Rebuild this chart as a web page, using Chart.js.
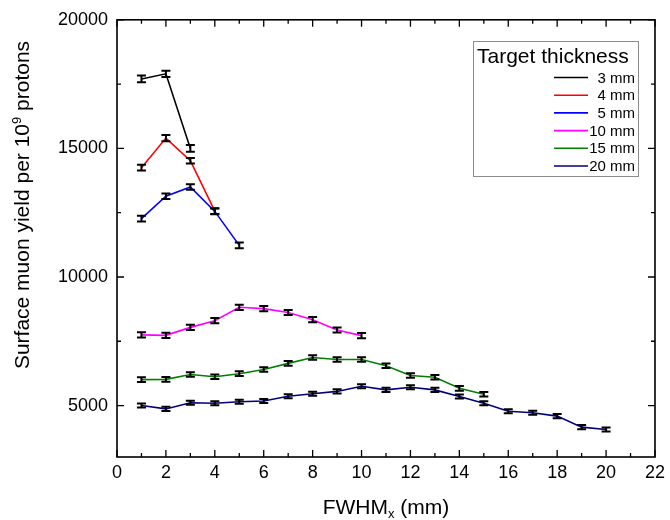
<!DOCTYPE html>
<html>
<head>
<meta charset="utf-8">
<script src="https://cdn.jsdelivr.net/npm/chart.js@4.4.1/dist/chart.umd.min.js"></script>
<style>
  body { margin: 0; background: #fff; }
  #wrap { width: 670px; height: 520px; }
</style>
</head>
<body>
<div id="wrap"><canvas id="yieldChart" width="670" height="520"></canvas></div>
<script>
const FONT = "'Liberation Sans', Arial, sans-serif";

// data
const thickness = ["3 mm", "4 mm", "5 mm", "10 mm", "15 mm", "20 mm"];
const colors = ["#000000", "#ff0000", "#0000ff", "#ff00ff", "#008000", "#000080"];

const fwhm3 = [1, 2, 3];
const yield3 = [17700, 17900, 15000];
const err3 = [130, 120, 130];

const fwhm4 = [1, 2, 3, 4];
const yield4 = [14250, 15400, 14520, 12560];
const err4 = [110, 120, 110, 110];

const fwhm5 = [1, 2, 3, 4, 5];
const yield5 = [12270, 13140, 13500, 12550, 11230];
const err5 = [110, 110, 110, 110, 110];

const fwhm10 = [1, 2, 3, 4, 5, 6, 7, 8, 9, 10];
const yield10 = [7750, 7730, 8040, 8300, 8820, 8770, 8620, 8340, 7940, 7720];
const err10 = [100, 100, 100, 100, 100, 100, 100, 100, 100, 100];

const fwhm15 = [1, 2, 3, 4, 5, 6, 7, 8, 9, 10, 11, 12, 13, 14, 15];
const yield15 = [6010, 6020, 6210, 6120, 6240, 6400, 6640, 6870, 6790, 6790, 6550, 6170, 6100, 5670, 5440];
const err15 = [90, 90, 90, 90, 90, 90, 90, 90, 90, 90, 90, 90, 90, 90, 90];

const fwhm20 = [1, 2, 3, 4, 5, 6, 7, 8, 9, 10, 11, 12, 13, 14, 15, 16, 17, 18, 19, 20];
const yield20 = [5000, 4870, 5110, 5090, 5150, 5180, 5360, 5460, 5550, 5750, 5610, 5710, 5610, 5350, 5090, 4780, 4720, 4590, 4160, 4070];
const err20 = [80, 80, 80, 80, 80, 80, 80, 80, 80, 80, 80, 80, 80, 80, 80, 80, 80, 80, 80, 80];

const xTicks = [0, 2, 4, 6, 8, 10, 12, 14, 16, 18, 20, 22];
const xMinorTicks = [1, 3, 5, 7, 9, 11, 13, 15, 17, 19, 21];
const yTicks = [5000, 10000, 15000, 20000];
const yMinorTicks = [7500, 12500, 17500];

const xList = [fwhm3, fwhm4, fwhm5, fwhm10, fwhm15, fwhm20];
const yList = [yield3, yield4, yield5, yield10, yield15, yield20];
const errList = [err3, err4, err5, err10, err15, err20];

const datasets = thickness.map((label, i) => ({
  label: label,
  data: xList[i].map((x, j) => ({ x: x, y: yList[i][j] })),
  errors: errList[i],
  borderColor: colors[i],
  backgroundColor: colors[i],
  borderWidth: 1.6,
  pointRadius: 0,
  tension: 0,
}));

// error bars with caps
const errorBars = {
  id: "errorBars",
  afterDatasetsDraw(chart) {
    const ctx = chart.ctx;
    const xs = chart.scales.x, ys = chart.scales.y;
    ctx.save();
    ctx.strokeStyle = "#000";
    ctx.lineWidth = 2;
    chart.data.datasets.forEach((ds) => {
      ds.data.forEach((p, j) => {
        const e = ds.errors[j];
        const px = xs.getPixelForValue(p.x);
        const top = ys.getPixelForValue(p.y + e);
        const bot = ys.getPixelForValue(p.y - e);
        ctx.beginPath();
        ctx.moveTo(px, top); ctx.lineTo(px, bot);
        ctx.moveTo(px - 4.5, top); ctx.lineTo(px + 4.5, top);
        ctx.moveTo(px - 4.5, bot); ctx.lineTo(px + 4.5, bot);
        ctx.stroke();
      });
    });
    ctx.restore();
  },
};

function drawPieces(ctx, pieces, cx, base) {
  let total = 0;
  pieces.forEach((p) => {
    ctx.font = p.size + "px " + FONT;
    p.w = ctx.measureText(p.t).width;
    total += p.w;
  });
  let x = cx - total / 2;
  pieces.forEach((p) => {
    ctx.font = p.size + "px " + FONT;
    ctx.fillText(p.t, x, base + (p.shift || 0));
    x += p.w;
  });
}

// frame, inward ticks, axis titles, legend
const decorations = {
  id: "decorations",
  afterDraw(chart) {
    const ctx = chart.ctx;
    const a = chart.chartArea;
    const xs = chart.scales.x, ys = chart.scales.y;
    ctx.save();
    ctx.strokeStyle = "#000";
    ctx.lineWidth = 1.6;
    ctx.strokeRect(a.left, a.top, a.right - a.left, a.bottom - a.top);

    ctx.lineWidth = 1.3;
    ctx.beginPath();
    const tickX = (v, len) => {
      const px = xs.getPixelForValue(v);
      ctx.moveTo(px, a.bottom); ctx.lineTo(px, a.bottom - len);
      ctx.moveTo(px, a.top); ctx.lineTo(px, a.top + len);
    };
    const tickY = (v, len) => {
      const py = ys.getPixelForValue(v);
      ctx.moveTo(a.left, py); ctx.lineTo(a.left + len, py);
      ctx.moveTo(a.right, py); ctx.lineTo(a.right - len, py);
    };
    xTicks.forEach((v) => tickX(v, 7));
    xMinorTicks.forEach((v) => tickX(v, 4));
    yTicks.forEach((v) => tickY(v, 7));
    yMinorTicks.forEach((v) => tickY(v, 4));
    ctx.stroke();

    // axis titles
    ctx.fillStyle = "#000";
    ctx.textBaseline = "alphabetic";
    ctx.textAlign = "left";
    drawPieces(ctx, [
      { t: "FWHM", size: 21 },
      { t: "x", size: 13, shift: 4 },
      { t: " (mm)", size: 21 },
    ], (a.left + a.right) / 2, 514);

    ctx.save();
    ctx.translate(29, 205);
    ctx.rotate(-Math.PI / 2);
    drawPieces(ctx, [
      { t: "Surface muon yield per 10", size: 21 },
      { t: "9", size: 13, shift: -8 },
      { t: " protons", size: 21 },
    ], 0, 0);
    ctx.restore();

    // legend box
    ctx.fillStyle = "#fff";
    ctx.fillRect(473, 41, 165, 135);
    ctx.strokeStyle = "#8c8c8c";
    ctx.lineWidth = 1;
    ctx.strokeRect(473.5, 41.5, 165, 135);
    ctx.fillStyle = "#000";
    ctx.font = "21px " + FONT;
    ctx.textAlign = "left";
    ctx.fillText("Target thickness", 477, 63);
    ctx.font = "15px " + FONT;
    ctx.textAlign = "right";
    ctx.textBaseline = "middle";
    chart.data.datasets.forEach((ds, i) => {
      const ry = 77.5 + i * 17.7;
      ctx.strokeStyle = ds.borderColor;
      ctx.lineWidth = 1.6;
      ctx.beginPath();
      ctx.moveTo(554, ry); ctx.lineTo(588, ry);
      ctx.stroke();
      ctx.fillText(ds.label, 635, ry + 1);
    });
    ctx.restore();
  },
};

new Chart(document.getElementById("yieldChart"), {
  type: "line",
  data: { datasets: datasets },
  options: {
    responsive: false,
    animation: false,
    devicePixelRatio: 1,
    layout: { padding: { top: 19, right: 13, left: 0, bottom: 0 } },
    plugins: { legend: { display: false }, tooltip: { enabled: false } },
    scales: {
      x: {
        type: "linear",
        min: 0,
        max: 22,
        afterBuildTicks: (s) => { s.ticks = xTicks.map((v) => ({ value: v })); },
        afterFit: (s) => { s.height = 63; },
        ticks: { color: "#000", font: { family: FONT, size: 18 }, padding: 5, maxRotation: 0,
          callback: (v) => String(v) },
        grid: { display: false, drawTicks: false },
        border: { display: false },
      },
      y: {
        type: "linear",
        min: 3000,
        max: 20000,
        afterBuildTicks: (s) => { s.ticks = yTicks.map((v) => ({ value: v })); },
        afterFit: (s) => { s.width = 117; },
        ticks: { color: "#000", font: { family: FONT, size: 18 }, padding: 9,
          callback: (v) => String(v) },
        grid: { display: false, drawTicks: false },
        border: { display: false },
      },
    },
  },
  plugins: [errorBars, decorations],
});
</script>
</body>
</html>
